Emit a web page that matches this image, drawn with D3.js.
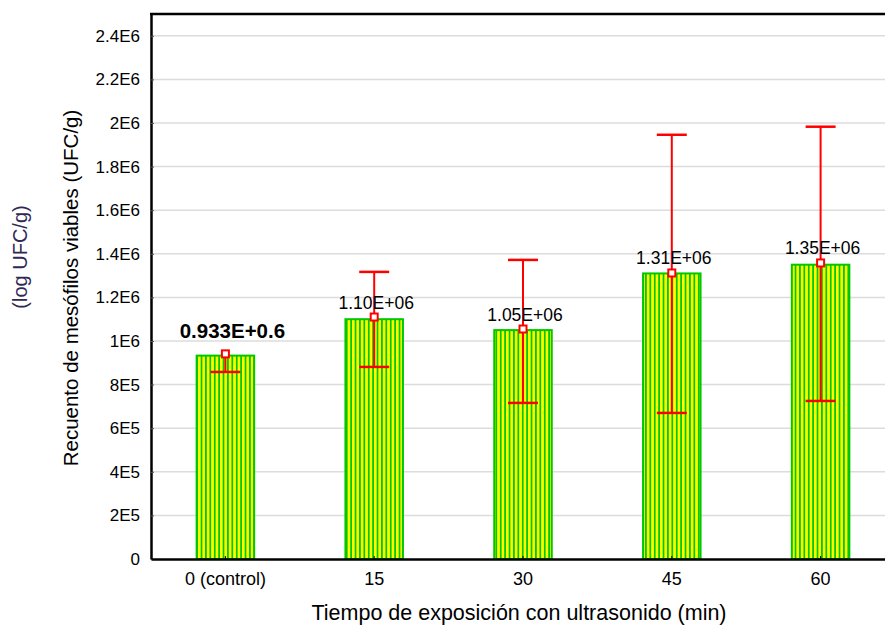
<!DOCTYPE html>
<html>
<head>
    <script src="https://cdn.jsdelivr.net/npm/d3@7"></script>
    <style>
        body { margin: 0; background: #fff; }
        text { font-family: "Liberation Sans", Arial, sans-serif; }
    </style>
</head>
<body>
    <div id="chart"></div>

    <script>
        // Data
        const categories = ["0 (control)", "15", "30", "45", "60"];
        const barValues = [933000, 1100000, 1050000, 1310000, 1350000];
        const meanValues = [941000, 1110000, 1055000, 1312000, 1358000];
        const lowerValues = [858000, 881000, 716000, 670000, 725000];
        const upperValues = [941000, 1317000, 1372000, 1946000, 1983000];
        const barLabels = ["0.933E+0.6", "1.10E+06", "1.05E+06", "1.31E+06", "1.35E+06"];
        const yTicks = [0, 200000, 400000, 600000, 800000, 1000000, 1200000, 1400000,
                        1600000, 1800000, 2000000, 2200000, 2400000];
        const yTickLabels = ["0", "2E5", "4E5", "6E5", "8E5", "1E6", "1.2E6", "1.4E6",
                             "1.6E6", "1.8E6", "2E6", "2.2E6", "2.4E6"];

        const width = 885, height = 628;
        const plotLeft = 151, plotRight = 895, plotTop = 14, plotBottom = 559;

        const svg = d3.select("#chart").append("svg")
            .attr("width", width)
            .attr("height", height);

        // Striped fill for the bars
        const pat = svg.append("defs").append("pattern")
            .attr("id", "stripes")
            .attr("patternUnits", "userSpaceOnUse")
            .attr("width", 4.4)
            .attr("height", 10);
        pat.append("rect").attr("width", 4.4).attr("height", 10).attr("fill", "#00c800");
        pat.append("rect").attr("width", 2.7).attr("height", 10).attr("fill", "#ffff00")
            .attr("shape-rendering", "crispEdges");

        const x = d3.scaleBand()
            .domain(categories)
            .range([plotLeft, plotRight])
            .paddingInner(0.6)
            .paddingOuter(0.3);

        const y = d3.scaleLinear()
            .domain([0, 2500000])
            .range([plotBottom, plotTop]);

        // Gridlines
        svg.append("g").selectAll("line")
            .data(yTicks.slice(1))
            .enter().append("line")
            .attr("x1", plotLeft).attr("x2", width)
            .attr("y1", d => y(d)).attr("y2", d => y(d))
            .attr("stroke", "#dcdcdc")
            .attr("stroke-width", 1.5);

        // Bars
        svg.append("g").selectAll("rect")
            .data(barValues)
            .enter().append("rect")
            .attr("x", (d, i) => x(categories[i]) + 1)
            .attr("width", x.bandwidth() - 2)
            .attr("y", d => y(d))
            .attr("height", d => plotBottom - y(d))
            .attr("fill", "url(#stripes)")
            .attr("stroke", "#00c800")
            .attr("stroke-width", 2);

        // Error bars (caps only where the error is non-zero)
        const cx = i => x(categories[i]) + x.bandwidth() / 2;
        const err = svg.append("g").attr("stroke", "#ff0000");
        err.selectAll(".whisker")
            .data(categories)
            .enter().append("line")
            .attr("x1", (d, i) => cx(i)).attr("x2", (d, i) => cx(i))
            .attr("y1", (d, i) => y(lowerValues[i]))
            .attr("y2", (d, i) => y(upperValues[i]))
            .attr("stroke-width", 2);
        [lowerValues, upperValues].forEach(vals => {
            err.append("g").selectAll("line")
                .data(vals.map((v, i) => ({ v, i })).filter(d => d.v !== meanValues[d.i]))
                .enter().append("line")
                .attr("x1", d => cx(d.i) - 15).attr("x2", d => cx(d.i) + 15)
                .attr("y1", d => y(d.v)).attr("y2", d => y(d.v))
                .attr("stroke-width", 2.5);
        });
        err.selectAll("rect")
            .data(meanValues)
            .enter().append("rect")
            .attr("x", (d, i) => cx(i) - 3.5)
            .attr("y", d => y(d) - 3.5)
            .attr("width", 7).attr("height", 7)
            .attr("fill", "#fff")
            .attr("stroke-width", 2);

        // Value labels
        svg.append("g").selectAll("text")
            .data(barLabels)
            .enter().append("text")
            .attr("x", (d, i) => cx(i) + (i === 0 ? 7 : 2))
            .attr("y", (d, i) => y(meanValues[i]) - (i === 0 ? 16 : 8.5))
            .attr("text-anchor", "middle")
            .attr("font-size", (d, i) => i === 0 ? 20.5 : 17.5)
            .attr("font-weight", (d, i) => i === 0 ? "bold" : "normal")
            .attr("fill", "#000")
            .text(d => d);

        // Axes
        const yAxis = svg.append("g")
            .attr("transform", `translate(${plotLeft},0)`)
            .call(d3.axisLeft(y).tickValues(yTicks)
                .tickFormat((d, i) => yTickLabels[i])
                .tickSizeInner(-3).tickSizeOuter(0).tickPadding(11));
        yAxis.select(".domain").attr("stroke", "#000").attr("stroke-width", 2.5);
        yAxis.selectAll(".tick line").attr("stroke", "#555");
        yAxis.selectAll("text").attr("font-size", 17).attr("fill", "#000");

        const xAxis = svg.append("g")
            .attr("transform", `translate(0,${plotBottom})`)
            .call(d3.axisBottom(x).tickSizeInner(-3).tickSizeOuter(0).tickPadding(13));
        xAxis.select(".domain").attr("stroke", "#000").attr("stroke-width", 2.5);
        xAxis.selectAll(".tick line").attr("stroke", "#000");
        xAxis.selectAll("text").attr("font-size", 18).attr("fill", "#000");

        // Top frame line
        svg.append("line")
            .attr("x1", plotLeft - 1).attr("x2", width)
            .attr("y1", plotTop).attr("y2", plotTop)
            .attr("stroke", "#000").attr("stroke-width", 2.5);

        // Axis titles
        svg.append("text")
            .attr("x", 519).attr("y", 620)
            .attr("text-anchor", "middle")
            .attr("font-size", 21.5)
            .text("Tiempo de exposición con ultrasonido (min)");

        svg.append("text")
            .attr("transform", "translate(78,288) rotate(-90)")
            .attr("text-anchor", "middle")
            .attr("font-size", 20.5)
            .text("Recuento de mesófilos viables (UFC/g)");

        svg.append("text")
            .attr("transform", "translate(27,257) rotate(-90)")
            .attr("text-anchor", "middle")
            .attr("font-size", 20)
            .attr("fill", "#2e2a55")
            .text("(log UFC/g)");
    </script>
</body>
</html>
